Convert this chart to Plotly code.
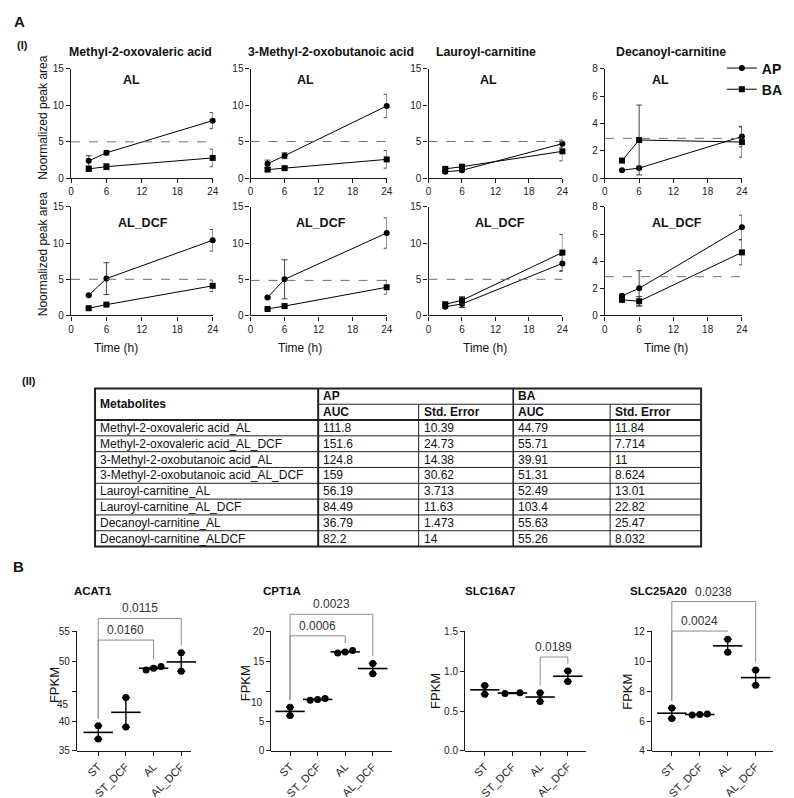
import numpy as np
import plotly.graph_objects as go

W, H = 794, 798
FONT = "Liberation Sans, Arial, sans-serif"

# ---------------- A (I): time courses, mean and SEM ----------------
times = [3, 6, 24]
metabolites = ["Methyl-2-oxovaleric acid", "3-Methyl-2-oxobutanoic acid",
               "Lauroyl-carnitine", "Decanoyl-carnitine"]
conditions = ["AL", "AL_DCF"]

ap_al = [[2.4, 3.5, 7.9], [2.0, 3.1, 9.9], [0.9, 1.1, 4.75], [0.6, 0.75, 3.05]]
ap_al_err = [[0.7, 0.3, 1.1], [0.5, 0.4, 1.6], [0.2, 0.2, 0.5], [0.05, 0.1, 0.75]]
ba_al = [[1.3, 1.6, 2.8], [1.2, 1.4, 2.6], [1.3, 1.6, 3.7], [1.3, 2.8, 2.65]]
ba_al_err = [[0.3, 0.4, 1.2], [0.2, 0.2, 1.2], [0.2, 0.3, 1.3], [0.05, 2.55, 1.1]]

ap_dcf = [[2.8, 5.1, 10.4], [2.5, 5.0, 11.4], [1.2, 1.6, 7.2], [1.45, 2.0, 6.5]]
ap_dcf_err = [[0.1, 2.2, 1.5], [0.1, 2.7, 2.1], [0.2, 0.5, 1.1], [0.1, 1.3, 0.9]]
ba_dcf = [[1.0, 1.5, 4.1], [0.9, 1.3, 3.9], [1.55, 2.1, 8.7], [1.15, 1.05, 4.65]]
ba_dcf_err = [[0.1, 0.1, 0.8], [0.1, 0.1, 0.95], [0.2, 0.5, 2.5], [0.1, 0.35, 0.92]]

cutoff_al = [5.0, 5.05, 5.05, 2.92]
cutoff_dcf = [5.0, 4.85, 5.0, 2.86]
a_ymax = [15, 15, 15, 8]
a_ystep = [5, 5, 5, 2]
a_xticks = [0, 6, 12, 18, 24]

# ---------------- A (II): AUC table ----------------
tbl_names = ["Methyl-2-oxovaleric acid_AL", "Methyl-2-oxovaleric acid_AL_DCF",
             "3-Methyl-2-oxobutanoic acid_AL", "3-Methyl-2-oxobutanoic acid_AL_DCF",
             "Lauroyl-carnitine_AL", "Lauroyl-carnitine_AL_DCF",
             "Decanoyl-carnitine_AL", "Decanoyl-carnitine_ALDCF"]
ap_auc = [111.8, 151.6, 124.8, 159, 56.19, 84.49, 36.79, 82.2]
ap_se = [10.39, 24.73, 14.38, 30.62, 3.713, 11.63, 1.473, 14]
ba_auc = [44.79, 55.71, 39.91, 51.31, 52.49, 103.4, 55.63, 55.26]
ba_se = [11.84, 7.714, 11, 8.624, 13.01, 22.82, 25.47, 8.032]

# ---------------- B: FPKM per group ----------------
groups = ["ST", "ST_DCF", "AL", "AL_DCF"]
genes = ["ACAT1", "CPT1A", "SLC16A7", "SLC25A20"]
acat1 = [[39.2, 37.0], [43.9, 39.0], [48.5, 48.8, 49.1], [51.4, 48.3]]
cpt1a = [[7.3, 5.9], [8.45, 8.6, 8.75], [16.35, 16.5, 16.75], [14.6, 12.9]]
slc16a7 = [[0.82, 0.71], [0.72, 0.73], [0.73, 0.62], [1.0, 0.87]]
slc25a20 = [[6.87, 6.17], [6.4, 6.43, 6.47], [11.45, 10.58], [9.41, 8.38]]
b_values = [acat1, cpt1a, slc16a7, slc25a20]

b_yticks = [[35, 40, 45, 50, 55], [0, 5, 10, 15, 20], [0, 0.5, 1.0, 1.5], [4, 6, 8, 10, 12]]
b_yticktext = [["35", "40", "", "50", "55"], ["0", "5", "", "15", "20"],
               ["0.0", "0.5", "1.0", "1.5"], ["4", "6", "8", "10", "12"]]
# comparisons: (group a, group b), bracket height, p value
b_pairs = [[(0, 2), (0, 3)], [(0, 2), (0, 3)], [(2, 3)], [(0, 2), (0, 3)]]
b_bracket = [[53.5, 57.1], [19.2, 22.8], [1.175], [12.0, 13.97]]
b_pvals = [["0.0160", "0.0115"], ["0.0006", "0.0023"], ["0.0189"], ["0.0024", "0.0238"]]
b_spread = [[0, 0, 1, 0], [0, 1, 1, 0], [0, 1, 0, 0], [0, 1, 0, 0]]


def xd(a, b):
    return [a / W, b / W]


def yd(top, bot):
    return [1 - bot / H, 1 - top / H]


def px(x):
    return x / W


def py(y):
    return 1 - y / H


def ref(kind, n):
    # "x", "x2", ... as plotly wants them
    return kind if n == 1 else f"{kind}{n}"


INK = "#1a1a1a"
ax_style = dict(showline=True, linecolor=INK, linewidth=1.2, ticks="outside",
                ticklen=4, tickwidth=1.2, tickcolor=INK, showgrid=False,
                zeroline=False, tickfont=dict(size=10, color="#222"))

fig = go.Figure()
layout = {}
annotations = []
shapes = []


def note(text, x, y, size=12, bold=False, xanchor="center", angle=0, color="#111"):
    annotations.append(dict(text=f"<b>{text}</b>" if bold else text, x=px(x), y=py(y),
                            xref="paper", yref="paper", showarrow=False,
                            xanchor=xanchor, yanchor="middle", textangle=angle,
                            font=dict(size=size, color=color, family=FONT)))


# ---------------- A (I) panels ----------------
a_cols = [(60.7, 204), (242.3, 380), (422.3, 557.7), (600.7, 739.3)]
a_rows = [(56.5, 167.7), (196.7, 306.7)]
rows = [(ap_al, ap_al_err, ba_al, ba_al_err, cutoff_al),
        (ap_dcf, ap_dcf_err, ba_dcf, ba_dcf_err, cutoff_dcf)]
n = 0
for r, (ap, ape, ba, bae, cut) in enumerate(rows):
    for c in range(4):
        n += 1
        xa, ya = ref("x", n), ref("y", n)
        for name, vals, errs, sym in [("AP", ap, ape, "circle"), ("BA", ba, bae, "square")]:
            fig.add_trace(go.Scatter(
                x=times, y=vals[c], mode="lines+markers", name=f"<b>{name}</b>",
                legendgroup=name, showlegend=(n == 1),
                marker=dict(symbol=sym, size=6, color="black"),
                line=dict(color="black", width=1),
                error_y=dict(type="data", array=errs[c], width=3, thickness=1, color="#444"),
                xaxis=xa, yaxis=ya, cliponaxis=False))
        shapes.append(dict(type="line", xref=f"{xa} domain", yref=ya, x0=0, x1=1,
                           y0=cut[c], y1=cut[c],
                           line=dict(color="#707070", width=1, dash="dash")))
        layout[ref("xaxis", n)] = dict(domain=xd(*a_cols[c]), range=[0, 24],
                                       tickvals=a_xticks, anchor=ya, **ax_style)
        layout[ref("yaxis", n)] = dict(domain=yd(*a_rows[r]), range=[0, a_ymax[c]],
                                       tick0=0, dtick=a_ystep[c], anchor=xa, **ax_style)

title_x = [131.3, 323.7, 480, 668]
al_x = [121.7, 297.7, 483.3, 656.7]
dcf_x = [133.3, 313.3, 495, 673.3]
time_x = [105.8, 292.5, 479.8, 663]
for c in range(4):
    note(metabolites[c], title_x[c], 39.5, size=12.3, bold=True)
    note(conditions[0], al_x[c], 68.3, size=12.5, bold=True)
    note(conditions[1], dcf_x[c], 213.3, size=12.5, bold=True)
    note("Time (h)", time_x[c], 340, size=12)
note("Noormalized peak area", 32, 106.5, size=12, angle=-90)
note("Noormalized peak area", 32, 245, size=12, angle=-90)
note("A", 8.5, 9, size=15, bold=True)
note("(I)", 12, 32, size=11, bold=True)
note("(II)", 18, 373.3, size=11, bold=True)
note("B", 8, 561, size=15, bold=True)

# ---------------- A (II) table ----------------
tx = [85, 310.7, 412.3, 508, 606, 698]
t_top, t_mid, t_head = 380.7, 396.7, 412.7
row_h = 16.04
t_bot = t_head + row_h * len(tbl_names)


def tline(x0, y0, x1, y1, w=1):
    shapes.append(dict(type="line", xref="paper", yref="paper", x0=px(x0), x1=px(x1),
                       y0=py(y0), y1=py(y1), line=dict(color="#222", width=w)))


for i in range(1, len(tbl_names)):
    y = t_head + row_h * i
    tline(tx[0], y, tx[-1], y, 1)
tline(tx[1], t_mid, tx[-1], t_mid, 1)
tline(tx[2], t_mid, tx[2], t_bot, 1)
tline(tx[4], t_mid, tx[4], t_bot, 1)
tline(tx[1], t_top, tx[1], t_bot, 2)
tline(tx[3], t_top, tx[3], t_bot, 1.6)
tline(tx[0], t_head, tx[-1], t_head, 2)
shapes.append(dict(type="rect", xref="paper", yref="paper", x0=px(tx[0]), x1=px(tx[-1]),
                   y0=py(t_bot), y1=py(t_top), line=dict(color="#222", width=2)))

note("Metabolites", tx[0] + 3, (t_top + t_head) / 2, bold=True, xanchor="left")
note("AP", tx[1] + 3, (t_top + t_mid) / 2, bold=True, xanchor="left")
note("BA", tx[3] + 3, (t_top + t_mid) / 2, bold=True, xanchor="left")
for j, lab in enumerate(["AUC", "Std. Error", "AUC", "Std. Error"]):
    note(lab, tx[j + 1] + 3, (t_mid + t_head) / 2, bold=True, xanchor="left")
for i, name in enumerate(tbl_names):
    yc = t_head + row_h * (i + 0.5)
    cells = [name] + [f"{v:g}" for v in (ap_auc[i], ap_se[i], ba_auc[i], ba_se[i])]
    for j, txt in enumerate(cells):
        note(txt, tx[j] + 3, yc, xanchor="left")

# ---------------- B panels ----------------
b_cols = [(66.7, 181.7), (263.3, 385.7), (459.3, 581.7), (648.3, 771)]
b_xrange = [[-0.77, 3.34], [-0.68, 3.71], [-0.71, 3.66], [-0.71, 3.63]]
b_bot, b_tick_top, b_top = 748.3, 626.7, 585
gene_x = [61.7, 253.3, 456.7, 624.3]
fpkm_x = [43.3, 237.3, 430, 623.3]
fpkm_y = [681.7, 680, 687.3, 688]
stray = {0: ("45", 701), 1: ("10", 699)}  # labels sitting below the break tick

for k in range(4):
    n = 9 + k
    xa, ya = f"x{n}", f"y{n}"
    lo, hi = b_yticks[k][0], b_yticks[k][-1]
    top = lo + (hi - lo) * (b_bot - b_top) / (b_bot - b_tick_top)
    vals = b_values[k]
    gap = 0.06 * (hi - lo)
    for g, v in enumerate(vals):
        off = np.linspace(-0.27, 0.27, len(v)) if b_spread[k][g] else np.zeros(len(v))
        fig.add_trace(go.Scatter(x=(g + off).tolist(), y=v, mode="markers", showlegend=False,
                                 marker=dict(symbol="circle", size=7, color="black"),
                                 xaxis=xa, yaxis=ya, cliponaxis=False))
    means = [float(np.mean(v)) for v in vals]
    sems = [float(np.std(v, ddof=1) / np.sqrt(len(v))) for v in vals]
    fig.add_trace(go.Scatter(x=list(range(4)), y=means, mode="markers", showlegend=False,
                             marker=dict(symbol="line-ew", size=21,
                                         line=dict(color="black", width=1.6)),
                             error_y=dict(type="data", array=sems, width=4,
                                          thickness=1.4, color="black"),
                             xaxis=xa, yaxis=ya, cliponaxis=False))
    for (a, b), h, p in zip(b_pairs[k], b_bracket[k], b_pvals[k]):
        la = max(vals[a]) + gap
        lb = max(vals[b]) + gap
        shapes.append(dict(type="path", xref=xa, yref=ya,
                           path=f"M {a},{la} L {a},{h} L {b},{h} L {b},{lb}",
                           line=dict(color="#8c8c8c", width=1)))
        annotations.append(dict(text=p, x=(a + b) / 2, y=h, xref=xa, yref=ya,
                                showarrow=False, yanchor="bottom", yshift=1,
                                font=dict(size=12, color="#333", family=FONT)))
    layout[f"xaxis{n}"] = dict(domain=xd(*b_cols[k]), range=b_xrange[k],
                               tickvals=list(range(4)), ticktext=groups, tickangle=-45,
                               anchor=ya, **{**ax_style, "tickfont": dict(size=11, color="#222")})
    layout[f"yaxis{n}"] = dict(domain=yd(b_top, b_bot), range=[lo, top], visible=False,
                               anchor=xa)
    # visible value axis, stops at the top tick
    layout[f"yaxis{n + 4}"] = dict(domain=yd(b_tick_top, b_bot), range=[lo, hi],
                                   tickvals=b_yticks[k], ticktext=b_yticktext[k],
                                   anchor=xa, **ax_style)
    note(genes[k], gene_x[k], 586, size=11.5, bold=True, xanchor="left")
    note("FPKM", fpkm_x[k], fpkm_y[k], size=13, angle=-90)
    if k in stray:
        lab, yy = stray[k]
        note(lab, b_cols[k][0] - 6, yy, size=10, xanchor="right", color="#222")

# empty traces so the value axes get drawn
for k in range(4):
    fig.add_trace(go.Scatter(x=[], y=[], showlegend=False, xaxis=f"x{9 + k}",
                             yaxis=f"y{13 + k}"))

fig.update_layout(
    width=W, height=H, autosize=False,
    margin=dict(l=0, r=0, t=0, b=0),
    paper_bgcolor="white", plot_bgcolor="rgba(0,0,0,0)",
    font=dict(family=FONT, color="#111"),
    showlegend=True,
    legend=dict(x=px(719), y=py(40), xanchor="left", yanchor="top",
                font=dict(size=14, color="#111"), itemwidth=30,
                bgcolor="rgba(0,0,0,0)", tracegroupgap=0),
    annotations=annotations, shapes=shapes,
    **layout,
)

fig.write_html("out.html")
